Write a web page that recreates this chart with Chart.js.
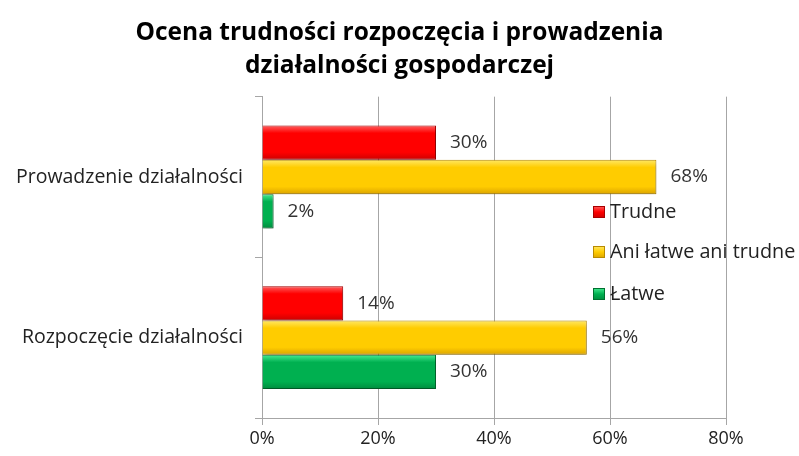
<!DOCTYPE html>
<html>
<head>
<meta charset="utf-8">
<script src="https://cdn.jsdelivr.net/npm/chart.js@4/dist/chart.umd.min.js"></script>
<style>
  html,body{margin:0;padding:0;background:#fff;}
  #wrap{width:799px;height:456px;}
</style>
</head>
<body>
<div id="wrap"><canvas id="myChart"></canvas></div>
<script>
const categories=["Prowadzenie działalności","Rozpoczęcie działalności"];
const seriesNames=["Trudne","Ani łatwe ani trudne","Łatwe"];
const trudne=[30,14];
const aniAni=[68,56];
const latwe=[2,30];
const xTicks=[0,20,40,60,80];

const FONT="'Open Sans', sans-serif";
// top, middle, bottom, border colours for the bevelled look
const palette=[
  ["#ff6060","#ff0000","#cc0000","#a80000"],
  ["#ffe866","#ffcc00","#dca400","#b88a00"],
  ["#48ec94","#00b050","#008c3e","#00702f"]
];

// bars: gradient fill + soft shadow, then the % labels
const barLook={
  id:'barLook',
  beforeDatasetsDraw(chart){
    const ctx=chart.ctx;
    chart.data.datasets.forEach((ds,i)=>{
      chart.getDatasetMeta(i).data.forEach(bar=>{
        const h=bar.height;
        const g=ctx.createLinearGradient(0,bar.y-h/2,0,bar.y+h/2);
        g.addColorStop(0,palette[i][0]);
        g.addColorStop(0.22,palette[i][1]);
        g.addColorStop(0.78,palette[i][1]);
        g.addColorStop(1,palette[i][2]);
        // options are shared between bars of a dataset, so give each its own copy
        bar.options=Object.assign({},bar.options,{backgroundColor:g});
      });
    });
    ctx.save();
    ctx.shadowColor="rgba(0,0,0,0.28)";
    ctx.shadowBlur=5;
    ctx.shadowOffsetX=1;
    ctx.shadowOffsetY=3;
  },
  afterDatasetsDraw(chart){
    const ctx=chart.ctx;
    ctx.restore();
    ctx.save();
    ctx.font="19px "+FONT;
    ctx.fillStyle="#333";
    ctx.textBaseline="middle";
    chart.data.datasets.forEach((ds,i)=>{
      chart.getDatasetMeta(i).data.forEach((bar,j)=>{
        ctx.fillText(ds.data[j]+"%",bar.x+14,bar.y);
      });
    });
    ctx.restore();
  }
};

const innerLegend={
  id:'innerLegend',
  afterDraw(chart){
    const ctx=chart.ctx;
    const ys=[212,252,294];
    ctx.save();
    ctx.font="19.8px "+FONT;
    ctx.textBaseline="middle";
    chart.data.datasets.forEach((ds,i)=>{
      const y=ys[i];
      const g=ctx.createLinearGradient(0,y-6,0,y+6);
      g.addColorStop(0,palette[i][0]);
      g.addColorStop(0.5,palette[i][1]);
      g.addColorStop(1,palette[i][2]);
      ctx.fillStyle=g;
      ctx.fillRect(593,y-6,12,12);
      ctx.strokeStyle=palette[i][3];
      ctx.lineWidth=1;
      ctx.strokeRect(593.5,y-5.5,11,11);
      ctx.fillStyle="#222";
      ctx.fillText(ds.label,610,y);
    });
    ctx.restore();
  }
};

Chart.defaults.font.family=FONT;
Chart.defaults.color="#222";

const ctx=document.getElementById('myChart').getContext('2d');
const myChart=new Chart(ctx,{
  type:'bar',
  data:{
    labels:categories,
    datasets:[
      {label:seriesNames[0],data:trudne,backgroundColor:palette[0][1],borderColor:palette[0][3],borderWidth:1},
      {label:seriesNames[1],data:aniAni,backgroundColor:palette[1][1],borderColor:palette[1][3],borderWidth:1},
      {label:seriesNames[2],data:latwe,backgroundColor:palette[2][1],borderColor:palette[2][3],borderWidth:1}
    ]
  },
  options:{
    indexAxis:'y',
    responsive:true,
    maintainAspectRatio:false,
    animation:false,
    layout:{padding:0},
    datasets:{bar:{categoryPercentage:0.64,barPercentage:1}},
    plugins:{
      legend:{display:false},
      tooltip:{enabled:false},
      title:{
        display:true,
        text:["Ocena trudności rozpoczęcia i prowadzenia","działalności gospodarczej"],
        font:{size:24.5,weight:'bold',family:FONT,lineHeight:1.34},
        color:"#000",
        padding:{top:17,bottom:14}
      }
    },
    scales:{
      x:{
        min:0,max:80,
        afterBuildTicks(scale){scale.ticks=xTicks.map(v=>({value:v}));},
        afterFit(scale){scale.height=38;},
        grid:{color:"#a6a6a6",tickLength:7,drawTicks:true},
        border:{color:"#a6a6a6"},
        ticks:{font:{size:18},color:"#222",padding:3,callback:v=>v+"%"}
      },
      y:{
        afterFit(scale){scale.width=262;},
        grid:{drawOnChartArea:false,color:"#a6a6a6",tickLength:7,offset:true},
        border:{color:"#a6a6a6"},
        ticks:{font:{size:19.5},color:"#222",padding:12}
      },
      // empty right-hand axis: only keeps the right margin so the title stays centred on the page
      spacer:{
        type:'linear',
        axis:'y',
        position:'right',
        display:true,
        afterFit(scale){scale.width=73;},
        grid:{display:false},
        border:{display:false},
        ticks:{display:false}
      }
    }
  },
  plugins:[barLook,innerLegend]
});
</script>
</body>
</html>
